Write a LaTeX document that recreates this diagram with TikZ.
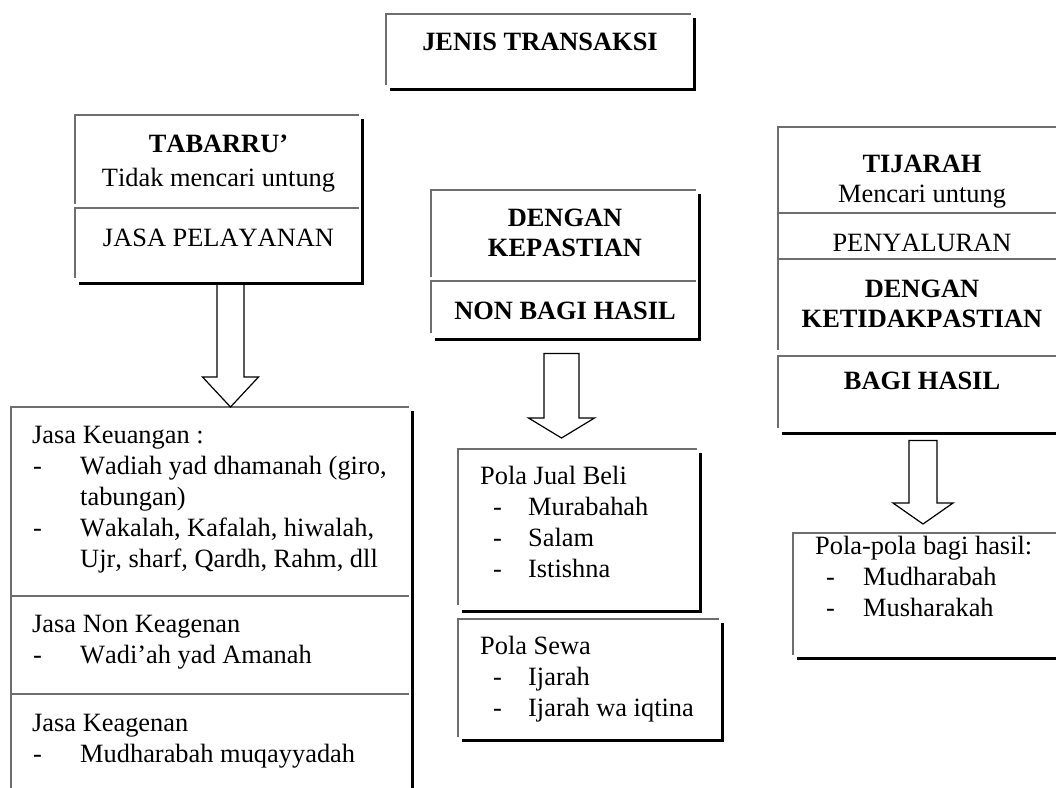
\documentclass[tikz,border=0pt]{standalone}
\usepackage{fontspec}
\setmainfont{Liberation Serif}[Kerning=Off]
\usetikzlibrary{calc}

\definecolor{edgegray}{HTML}{6E6E6E}
\newcommand\fs{\fontsize{26.4}{31}\selectfont}
% list entry: dash, then the entry text at a fixed indent
\newcommand\itm[2][1]{\makebox[48pt][l]{\hspace{#1pt}-}#2}
\newcommand\cont{\hspace*{48pt}}

\tikzset{
  frame/.style={draw=none, inner sep=0pt, anchor=north west},
  lbl/.style={inner sep=0pt, anchor=base, font=\fs},
  blbl/.style={inner sep=0pt, anchor=base, font=\fs\bfseries},
  listtext/.style={inner sep=0pt, anchor=north west, align=left, font=\fs},
  grayedge/.style={draw=edgegray, line width=1.6pt},
  blackedge/.style={draw=black, line width=2.6pt},
  arrowline/.style={draw=black, line width=1.2pt, line join=miter},
}

% light top and left edge of a box
\newcommand\lightedge[2][4]{%
  \draw[grayedge] ([yshift=#1pt]#2.south west) -- (#2.north west) -- ([xshift=-3pt]#2.north east);}
% heavy right and bottom edge, from the top box of a stack to its bottom box
\newcommand\heavyedge[2]{%
  \draw[blackedge] ([yshift=-4pt]#1.north east) -- (#2.south east) -- ([xshift=4pt]#2.south west);}
% hollow block arrow: axis, source node, target node, gaps, half widths, head length
\newcommand\blockarrow[8]{%
  \draw[arrowline] let \p1=($(#1 |- #2.south)+(0,#4)$), \p2=($(#1 |- #3.north)+(0,-#5)$) in
    (\x1-#6pt,\y1) -- (\x1-#6pt,\y2+#8pt) -- (\x1-#7pt,\y2+#8pt) -- (\x1,\y2)
    -- (\x1+#7pt,\y2+#8pt) -- (\x1+#6pt,\y2+#8pt) -- (\x1+#6pt,\y1) -- cycle;}

\begin{document}
\begin{tikzpicture}[x=1pt, y=-1pt]
\useasboundingbox (0,0) rectangle (1056,787);
\clip (0,0) rectangle (1056,787);

% ---------- box outlines ----------
\node[frame, minimum width=308pt, minimum height=75pt] (jt) at (386,14) {};
\node[frame, minimum width=287pt, minimum height=93pt] (tab) at (75,115) {};
\node[frame, minimum width=287pt, minimum height=75pt] (jp) at (75,208) {};
\node[frame, minimum width=268pt, minimum height=91pt] (dk) at (431,190) {};
\node[frame, minimum width=268pt, minimum height=58pt] (nb) at (431,281) {};
\node[frame, minimum width=288pt, minimum height=86pt] (tj) at (778,127) {};
\node[frame, minimum width=288pt, minimum height=46pt] (py) at (778,213) {};
\node[frame, minimum width=288pt, minimum height=97pt] (dg) at (778,259) {};
\node[frame, minimum width=288pt, minimum height=77pt] (bh) at (778,356) {};
\node[frame, minimum width=401pt, minimum height=189pt] (k1) at (11,407) {};
\node[frame, minimum width=401pt, minimum height=98pt] (k2) at (11,596) {};
\node[frame, minimum width=401pt, minimum height=110pt] (k3) at (11,694) {};
\node[frame, minimum width=242pt, minimum height=162pt] (jb) at (458,449) {};
\node[frame, minimum width=264pt, minimum height=121pt] (sw) at (458,619) {};
\node[frame, minimum width=280pt, minimum height=125pt] (ph) at (793,533) {};

\lightedge{jt}\heavyedge{jt}{jt}
\lightedge{tab}\lightedge[5]{jp}\heavyedge{tab}{jp}
\lightedge{dk}\lightedge[6]{nb}\heavyedge{dk}{nb}
\lightedge[0]{tj}\lightedge[0]{py}\lightedge[6]{dg}\lightedge[5]{bh}\heavyedge{tj}{bh}
\lightedge[0]{k1}\lightedge[0]{k2}\lightedge[0]{k3}\heavyedge{k1}{k3}
\lightedge[6]{jb}\heavyedge{jb}{jb}
\lightedge[3]{sw}\heavyedge{sw}{sw}
\lightedge[3]{ph}\heavyedge{ph}{ph}

% ---------- block arrows ----------
\coordinate (ax1) at (230.5,0);
\coordinate (ax2) at (561.5,0);
\coordinate (ax3) at (923,0);
\blockarrow{ax1}{jp}{k1}{0}{0}{13.5}{28}{30}
\blockarrow{ax2}{nb}{jb}{14}{11}{17.5}{33}{20}
\blockarrow{ax3}{bh}{ph}{7}{9}{14}{30}{21}

% ---------- headings ----------
\node[blbl] (tjt) at (540,50) {JENIS TRANSAKSI};
\node[blbl] (ttab) at (218.5,152) {TABARRU’};
\node[lbl] (ttab2) at (218.5,186) {Tidak mencari untung};
\node[lbl] (tjp) at (218.5,246) {JASA PELAYANAN};
\node[blbl] (tdk1) at (565,226) {DENGAN};
\node[blbl] (tdk2) at (565,256) {KEPASTIAN};
\node[blbl] (tnb) at (565,319) {NON BAGI HASIL};
\node[blbl] (ttj) at (922,172) {TIJARAH};
\node[lbl] (ttj2) at (922,202) {Mencari untung};
\node[lbl] (tpy) at (922,251) {PENYALURAN};
\node[blbl] (tdg1) at (922,297) {DENGAN};
\node[blbl] (tdg2) at (922,327) {KETIDAKPASTIAN};
\node[blbl] (tbh) at (922,389) {BAGI HASIL};

% ---------- lists ----------
\node[listtext] (tk1) at (32,421.3) {\strut Jasa Keuangan :\\
  \itm{Wadiah yad dhamanah (giro,}\\ \cont tabungan)\\
  \itm{Wakalah, Kafalah, hiwalah,}\\ \cont Ujr, sharf, Qardh, Rahm, dll};
\node[listtext] (tk2) at (32,610.3) {\strut Jasa Non Keagenan\\ \itm{Wadi’ah yad Amanah}};
\node[listtext] (tk3) at (32,709.3) {\strut Jasa Keagenan\\ \itm{Mudharabah muqayyadah}};
\node[listtext] (tjb) at (480,462.3) {\strut Pola Jual Beli\\ \itm[13]{Murabahah}\\
  \itm[13]{Salam}\\ \itm[13]{Istishna}};
\node[listtext] (tsw) at (480,632.3) {\strut Pola Sewa\\ \itm[13]{Ijarah}\\ \itm[13]{Ijarah wa iqtina}};
\node[listtext] (tph) at (815,532.3) {\strut Pola-pola bagi hasil:\\ \itm[11]{Mudharabah}\\ \itm[11]{Musharakah}};
\end{tikzpicture}
\end{document}
